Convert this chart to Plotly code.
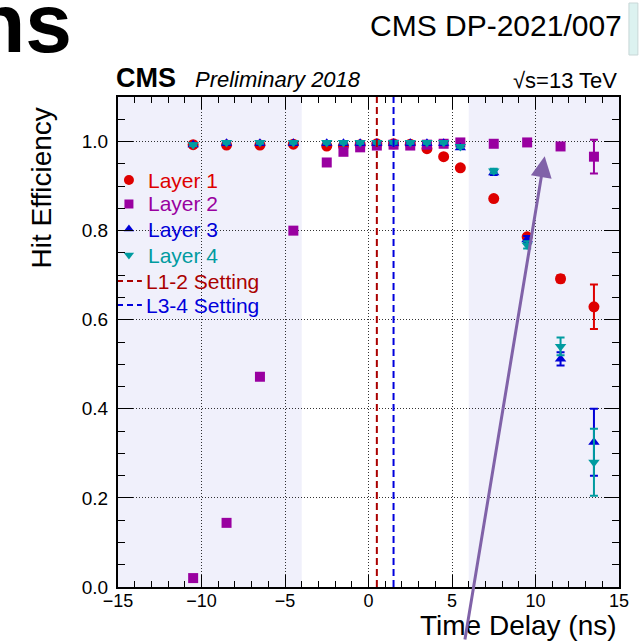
import plotly.graph_objects as go

# ---------------- data ----------------
delay = [-10.5, -8.5, -6.5, -4.5, -2.5, -1.5, -0.5, 0.5, 1.5, 2.5, 3.5, 4.5, 5.5, 7.5, 9.5, 11.5, 13.5]

layer1 = [0.993, 0.992, 0.992, 0.994, 0.990, 0.990, 0.993, 0.995, 0.995, 0.994, 0.984, 0.966, 0.941, 0.872, 0.786, 0.692, 0.629]
layer2 = [0.020, 0.144, 0.472, 0.800, 0.953, 0.977, 0.987, 0.991, 0.993, 0.991, 0.993, 0.995, 0.998, 0.995, 0.998, 0.989, 0.966]
layer3 = [0.993, 0.996, 0.996, 0.996, 0.996, 0.996, 0.996, 0.996, 0.996, 0.996, 0.996, 0.996, 0.986, 0.930, 0.780, 0.512, 0.325]
layer4 = [0.993, 0.998, 0.998, 0.998, 0.998, 0.998, 0.998, 0.998, 0.998, 0.998, 0.998, 0.998, 0.989, 0.934, 0.768, 0.540, 0.280]

err1 = [0.003, 0.003, 0.003, 0.003, 0.003, 0.003, 0.003, 0.003, 0.003, 0.003, 0.003, 0.003, 0.003, 0.004, 0.005, 0.008, 0.050]
err2 = [0.003, 0.003, 0.003, 0.003, 0.003, 0.003, 0.003, 0.003, 0.003, 0.003, 0.003, 0.003, 0.003, 0.003, 0.003, 0.005, 0.038]
err3 = [0.003, 0.003, 0.003, 0.003, 0.003, 0.003, 0.003, 0.003, 0.003, 0.003, 0.003, 0.003, 0.003, 0.005, 0.008, 0.015, 0.075]
err4 = [0.003, 0.003, 0.003, 0.003, 0.003, 0.003, 0.003, 0.003, 0.003, 0.003, 0.003, 0.003, 0.003, 0.005, 0.008, 0.020, 0.075]

setting_l12 = 0.5
setting_l34 = 1.5

x_range = [-15, 15]
y_range = [0.0, 1.1]
shade_regions = [(-15, -4), (6, 15)]

names = ["Layer 1", "Layer 2", "Layer 3", "Layer 4", "L1-2 Setting", "L3-4 Setting"]

# ---------------- style ----------------
FONT = "Liberation Sans, Arial, Helvetica, sans-serif"
C1 = "rgb(222,0,0)"
C2 = "rgb(153,0,160)"
C3 = "rgb(0,0,215)"
C4 = "rgb(0,155,160)"
C12 = "rgb(170,0,0)"
C34 = "rgb(0,0,220)"

W, H = 641, 641
ML, MR, MT, MB = 118, 19, 97, 54
PW, PH = W - ML - MR, H - MT - MB


def px(xp):
    return (xp - ML) / PW


def py(yp):
    return (H - MB - yp) / PH


fig = go.Figure()

series = [
    (layer1, err1, C1, "circle", 11, names[0]),
    (layer2, err2, C2, "square", 10, names[1]),
    (layer3, err3, C3, "triangle-up", 10, names[2]),
    (layer4, err4, C4, "triangle-down", 10, names[3]),
]
for vals, errs, col, sym, sz, nm in series:
    fig.add_trace(go.Scatter(
        x=delay, y=vals, mode="markers", name=nm, showlegend=False,
        marker=dict(symbol=sym, size=sz, color=col, line=dict(width=0)),
        error_y=dict(type="data", array=errs, visible=True, color=col, thickness=2, width=4),
        cliponaxis=False,
    ))

settings = [(setting_l12, C12, names[4]), (setting_l34, C34, names[5])]
for xv, col, nm in settings:
    fig.add_trace(go.Scatter(
        x=[xv, xv], y=y_range, mode="lines", name=nm, showlegend=False,
        line=dict(color=col, width=2, dash="7px,4px"),
    ))

# ---------------- manual legend (pixel overlay axes) ----------------
leg_rows = [180, 204, 229, 255, 281, 305]
leg_sym_x = 129
leg_text_x = 146
annotations = []
for i, (vals, errs, col, sym, sz, nm) in enumerate(series):
    fig.add_trace(go.Scatter(
        x=[leg_sym_x], y=[leg_rows[i]], xaxis="x2", yaxis="y2", mode="markers", showlegend=False,
        marker=dict(symbol=sym, size=sz - 1, color=col, line=dict(width=0)), cliponaxis=False, hoverinfo="skip",
    ))
    annotations.append(dict(text=nm, xref="paper", yref="paper", x=px(leg_text_x), y=py(leg_rows[i]),
                            xanchor="left", yanchor="middle", showarrow=False,
                            font=dict(family=FONT, size=21, color=col)))
for j, (xv, col, nm) in enumerate(settings):
    r = leg_rows[4 + j]
    fig.add_trace(go.Scatter(
        x=[117, 142], y=[r, r], xaxis="x2", yaxis="y2", mode="lines", showlegend=False,
        line=dict(color=col, width=2, dash="6px,4px"), cliponaxis=False, hoverinfo="skip",
    ))
    annotations.append(dict(text=nm, xref="paper", yref="paper", x=px(leg_text_x - 2), y=py(r),
                            xanchor="left", yanchor="middle", showarrow=False,
                            font=dict(family=FONT, size=21, color=col)))

shapes = []
for a, b in shade_regions:
    shapes.append(dict(type="rect", xref="x", yref="y", x0=a, x1=b, y0=y_range[0], y1=y_range[1],
                       fillcolor="rgb(240,240,251)", line=dict(width=0), layer="below"))
# slide artefact at top right
shapes.append(dict(type="rect", xref="paper", yref="paper", x0=px(632), x1=px(641), y0=py(55), y1=py(3),
                   fillcolor="rgb(220,242,240)", line=dict(width=1, color="rgb(200,215,215)"), layer="above"))

annotations += [
    dict(text="<b>ns</b>", xref="paper", yref="paper", x=px(74), y=py(23), xanchor="right", yanchor="middle",
         showarrow=False, font=dict(family=FONT, size=84, color="black")),
    dict(text="CMS DP-2021/007", xref="paper", yref="paper", x=px(627), y=py(25), xanchor="right", yanchor="middle",
         showarrow=False, font=dict(family=FONT, size=30, color="black")),
    dict(text="<b>CMS</b>", xref="paper", yref="paper", x=px(114), y=py(78), xanchor="left", yanchor="middle",
         showarrow=False, font=dict(family=FONT, size=27, color="black")),
    dict(text="<i>Preliminary 2018</i>", xref="paper", yref="paper", x=px(193), y=py(79), xanchor="left", yanchor="middle",
         showarrow=False, font=dict(family=FONT, size=22, color="black")),
    dict(text="√s=13 TeV", xref="paper", yref="paper", x=px(622), y=py(80), xanchor="right", yanchor="middle",
         showarrow=False, font=dict(family=FONT, size=22, color="black")),
    dict(text="Time Delay (ns)", xref="paper", yref="paper", x=px(622), y=py(625), xanchor="right", yanchor="middle",
         showarrow=False, font=dict(family=FONT, size=28, color="black")),
    dict(text="Hit Efficiency", xref="paper", yref="paper", x=px(41), y=py(188), xanchor="center", yanchor="middle",
         textangle=-90, showarrow=False, font=dict(family=FONT, size=28, color="black")),
    # purple arrow overlay
    dict(text="", x=10.55, y=0.967, xref="x", yref="y", showarrow=True, ax=-80, ay=486,
         arrowhead=2, arrowsize=1.4, arrowwidth=3, arrowcolor="rgb(128,98,168)", standoff=0),
]

fig.update_layout(
    width=W, height=H,
    margin=dict(l=ML, r=MR, t=MT, b=MB),
    paper_bgcolor="white", plot_bgcolor="white",
    font=dict(family=FONT, size=18, color="black"),
    showlegend=False,
    shapes=shapes,
    annotations=annotations,
    xaxis2=dict(overlaying="x", range=[ML, W - MR], visible=False, fixedrange=True),
    yaxis2=dict(overlaying="y", range=[H - MB, MT], visible=False, fixedrange=True),
    xaxis=dict(
        range=x_range, dtick=5, tick0=0, showgrid=True, gridcolor="rgba(0,0,0,0.8)", gridwidth=1, griddash="1px,2px",
        zeroline=False, showline=True, linecolor="black", linewidth=2, mirror="ticks",
        ticks="inside", ticklen=12, tickwidth=1, tickcolor="black",
        minor=dict(dtick=1, ticks="inside", ticklen=6, tickcolor="black", tickwidth=1, showgrid=False),
        tickfont=dict(family=FONT, size=18), ticklabelstandoff=-4,
    ),
    yaxis=dict(
        range=y_range, dtick=0.2, tick0=0, tickformat=".1f", showgrid=True, gridcolor="rgba(0,0,0,0.8)", gridwidth=1,
        griddash="1px,2px",
        zeroline=False, showline=True, linecolor="black", linewidth=2, mirror="ticks",
        ticks="inside", ticklen=15, tickwidth=1, tickcolor="black",
        minor=dict(dtick=0.05, ticks="inside", ticklen=7, tickcolor="black", tickwidth=1, showgrid=False),
        tickfont=dict(family=FONT, size=19), ticklabelstandoff=4,
    ),
)

fig.write_html("out.html")
